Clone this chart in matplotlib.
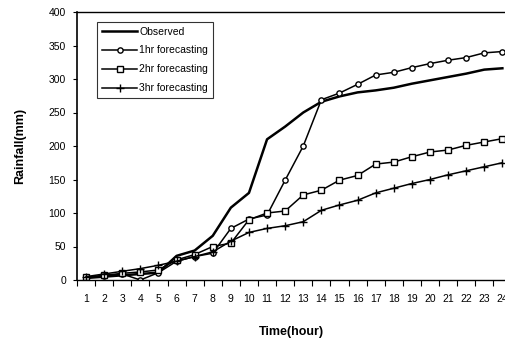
import matplotlib
matplotlib.use("Agg")
import matplotlib.pyplot as plt
from matplotlib.ticker import FixedLocator, NullFormatter

plt.rcParams['font.family'] = ['Liberation Sans', 'DejaVu Sans']

hours = list(range(1, 25))
observed = [3, 5, 7, 9, 11, 36, 44, 66, 108, 130, 210, 229, 250, 266,
            274, 280, 283, 287, 293, 298, 303, 308, 314, 316]
fc_1hr = [4, 6, 9, 0, 11, 28, 35, 40, 77, 91, 97, 149, 200, 269,
          279, 292, 306, 310, 317, 323, 328, 332, 339, 341]
fc_2hr = [4, 7, 10, 12, 15, 30, 38, 50, 55, 90, 100, 103, 127, 134,
          149, 156, 173, 176, 184, 191, 194, 201, 206, 211]
fc_3hr = [5, 9, 13, 17, 22, 28, 35, 42, 58, 71, 77, 81, 87, 104,
          112, 119, 130, 137, 144, 150, 157, 163, 169, 175]
y_ticks = [0, 50, 100, 150, 200, 250, 300, 350, 400]

fig = plt.figure(figsize=(5.06, 3.47), dpi=100)
ax = fig.add_axes([77 / 506, 67 / 347, 429 / 506, 268 / 347])

ax.plot(hours, observed, color='black', lw=1.8, label='Observed')
ax.plot(hours, fc_1hr, color='black', lw=1.1, marker='o', ms=3.8,
        mfc='white', mec='black', mew=1.0, label='1hr forecasting')
ax.plot(hours, fc_2hr, color='black', lw=1.1, marker='s', ms=3.8,
        mfc='white', mec='black', mew=1.0, label='2hr forecasting')
ax.plot(hours, fc_3hr, color='black', lw=1.1, marker='+', ms=6,
        mew=1.0, label='3hr forecasting')

ax.set_xlim(0.5, 24.2)
ax.set_ylim(0, 400)
ax.set_yticks(y_ticks)
ax.set_yticklabels([str(v) for v in y_ticks], fontsize=7.5)
ax.xaxis.set_major_locator(FixedLocator(hours))
ax.set_xticklabels([str(h) for h in hours], fontsize=7.5)
ax.xaxis.set_minor_locator(FixedLocator([h + 0.5 for h in range(0, 24)]))
ax.xaxis.set_minor_formatter(NullFormatter())
ax.tick_params(axis='x', which='major', length=0, pad=10)
ax.tick_params(axis='x', which='minor', length=4, width=0.8, direction='out')
ax.tick_params(axis='y', length=3, width=0.8, direction='out', pad=5)

ax.spines['right'].set_visible(False)
ax.spines['left'].set_linewidth(1.2)
ax.spines['bottom'].set_linewidth(1.0)
ax.spines['top'].set_linewidth(1.0)

ax.set_ylabel('Rainfall(mm)', fontsize=9, fontweight='bold', labelpad=16)
ax.set_xlabel('Time(hour)', fontsize=9, fontweight='bold', labelpad=16)

leg = ax.legend(loc='upper left', bbox_to_anchor=(0.047, 0.963), fontsize=7.5,
                frameon=True, fancybox=False, edgecolor='black',
                borderpad=0.45, labelspacing=0.85, handlelength=3.4,
                handletextpad=0.2, borderaxespad=0)
leg.get_frame().set_linewidth(0.8)

fig.savefig('out.png', dpi=100)
